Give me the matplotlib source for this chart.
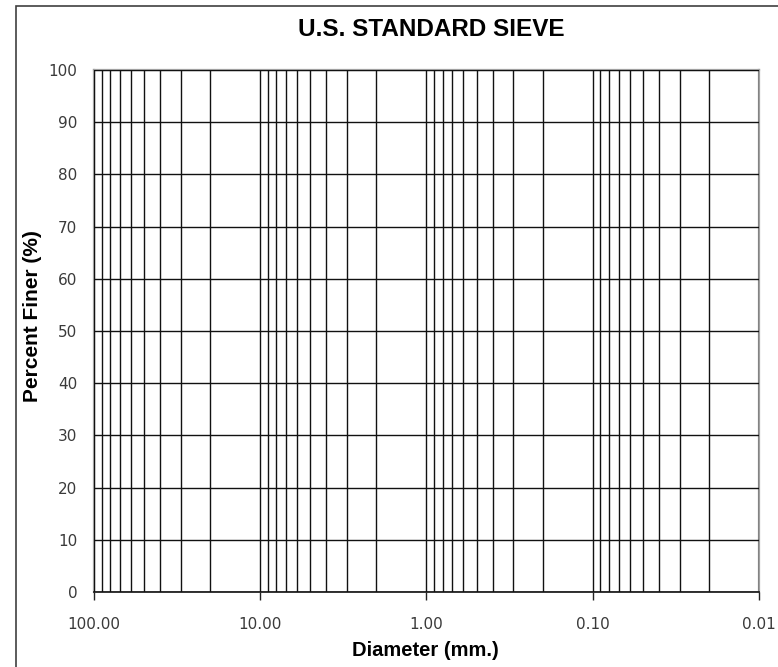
import matplotlib
matplotlib.use("Agg")
import matplotlib.pyplot as plt
from matplotlib.ticker import FixedLocator, LogLocator, NullFormatter
from matplotlib.patches import Rectangle

# ---- data / labels ----
title = "U.S. STANDARD SIEVE"
x_label = "Diameter (mm.)"
y_label = "Percent Finer (%)"
x_major = [100, 10, 1, 0.1, 0.01]
x_major_labels = ["100.00", "10.00", "1.00", "0.10", "0.01"]
y_ticks = [0, 10, 20, 30, 40, 50, 60, 70, 80, 90, 100]
x_limits = (100, 0.01)
y_limits = (0, 100)

W, H = 778, 667
fig = plt.figure(figsize=(W / 100, H / 100), dpi=100)
fig.patch.set_facecolor("white")

left, right, top, bottom = 94, 759, 70, 592
ax = fig.add_axes([left / W, 1 - bottom / H, (right - left) / W, (bottom - top) / H])

ax.set_xscale("log")
ax.set_xlim(*x_limits)
ax.set_ylim(*y_limits)

ax.xaxis.set_major_locator(FixedLocator(x_major))
ax.set_xticklabels(x_major_labels)
ax.xaxis.set_minor_locator(LogLocator(base=10, subs=[2, 3, 4, 5, 6, 7, 8, 9]))
ax.xaxis.set_minor_formatter(NullFormatter())
ax.set_yticks(y_ticks)
ax.set_yticklabels([str(v) for v in y_ticks])

grid_kw = dict(color="#111111", linewidth=1.0)
ax.grid(True, which="major", axis="both", **grid_kw)
ax.grid(True, which="minor", axis="x", **grid_kw)
ax.set_axisbelow(False)

ax.tick_params(axis="x", which="major", direction="out", length=6, width=1.0,
               color="#222222", pad=12, labelsize=11, labelcolor="#3a3a3a")
ax.tick_params(axis="x", which="minor", length=0)
ax.tick_params(axis="y", which="both", length=0, pad=12, labelsize=11, labelcolor="#3a3a3a")
for lab in ax.get_xticklabels() + ax.get_yticklabels():
    lab.set_fontfamily("DejaVu Sans")

for s in ["left", "top", "right"]:
    ax.spines[s].set_color("#a0a0a0")
    ax.spines[s].set_linewidth(1.6)
ax.spines["bottom"].set_color("#222222")
ax.spines["bottom"].set_linewidth(1.3)

bold = dict(family=["Liberation Sans", "DejaVu Sans"], weight="bold")
fig.text(431 / W, 1 - 29 / H, title, ha="center", va="center", fontsize=17.5, **bold)
fig.text(425 / W, 1 - 650 / H, x_label, ha="center", va="center", fontsize=14.5, **bold)
fig.text(33 / W, 1 - 316 / H, y_label, ha="center", va="center", rotation=90,
         fontsize=15, **bold)

# outer chart border (left and top visible)
fig.patches.append(Rectangle((16 / W, -0.2), 2.0, (1 - 6 / H) + 0.2,
                             transform=fig.transFigure, fill=False,
                             edgecolor="#404040", linewidth=1.2, clip_on=False))

fig.savefig("out.png", dpi=100, facecolor="white")
